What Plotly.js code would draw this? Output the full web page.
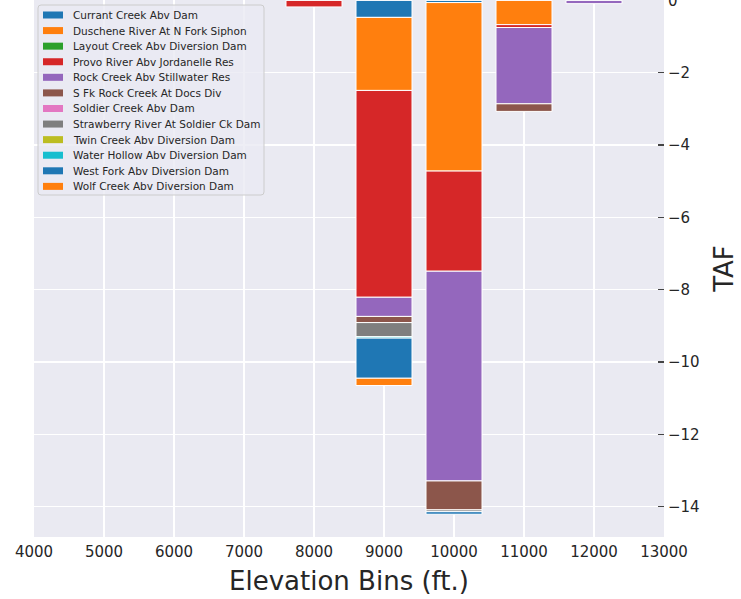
<!DOCTYPE html>
<html>
<head>
<meta charset="utf-8">
<script src="https://cdn.plot.ly/plotly-3.0.1.min.js"></script>
<style>html,body{margin:0;padding:0;background:#fff;}#chart{width:741px;height:599px;}</style>
</head>
<body>
<div id="chart"></div>
<script>
// ---- Data ----
const elevationBins = [8000, 9000, 10000, 11000, 12000];
const seriesNames = [
  "Currant Creek Abv Dam",
  "Duschene River At N Fork Siphon",
  "Layout Creek Abv Diversion Dam",
  "Provo River Abv Jordanelle Res",
  "Rock Creek Abv Stillwater Res",
  "S Fk Rock Creek At Docs Div",
  "Soldier Creek Abv Dam",
  "Strawberry River At Soldier Ck Dam",
  "Twin Creek Abv Diversion Dam",
  "Water Hollow Abv Diversion Dam",
  "West Fork Abv Diversion Dam",
  "Wolf Creek Abv Diversion Dam"
];
const currantCreek   = [0,     -0.47, -0.06, 0,     0];
const duscheneRiver  = [0,     -2.02, -4.66, -0.67, 0];
const layoutCreek    = [0,      0,     0,     0,    0];
const provoRiver     = [-0.18, -5.72, -2.77, -0.08, 0];
const rockCreek      = [0,     -0.53, -5.80, -2.11, -0.09];
const sFkRockCreek   = [0,     -0.17, -0.80, -0.21, 0];
const soldierCreek   = [0,      0,     0,     0,    0];
const strawberryRiver= [0,     -0.39, -0.05, 0,     0];
const twinCreek      = [0,      0,     0,     0,    0];
const waterHollow    = [0,     -0.04,  0,     0,    0];
const westFork       = [0,     -1.11, -0.07,  0,    0];
const wolfCreek      = [0,     -0.20,  0,     0,    0];
const xTickVals = [4000, 5000, 6000, 7000, 8000, 9000, 10000, 11000, 12000, 13000];
const xTickText = ["4000", "5000", "6000", "7000", "8000", "9000", "10000", "11000", "12000", "13000"];
const yTickVals = [0, -2, -4, -6, -8, -10, -12, -14];
const yTickText = ["0", "\u22122", "\u22124", "\u22126", "\u22128", "\u221210", "\u221212", "\u221214"];

const seriesValues = [currantCreek, duscheneRiver, layoutCreek, provoRiver, rockCreek,
  sFkRockCreek, soldierCreek, strawberryRiver, twinCreek, waterHollow, westFork, wolfCreek];
const colors = ["#1f77b4","#ff7f0e","#2ca02c","#d62728","#9467bd","#8c564b",
  "#e377c2","#7f7f7f","#bcbd22","#17becf","#1f77b4","#ff7f0e"];

const traces = seriesNames.map((name, i) => ({
  type: "bar",
  name: name,
  x: elevationBins,
  y: seriesValues[i].map(v => v === 0 ? null : v),
  width: 800,
  marker: {color: colors[i], line: {color: "#ffffff", width: 1}},
  showlegend: false,
  hoverinfo: "skip"
}));

// ---- Layout geometry ----
const ML = 34, MR = 77, MT = 0, MB = 62;
const PW = 741 - ML - MR, PH = 599 - MT - MB;
const px = x => (x - ML) / PW;
const py = y => 1 - (y - MT) / PH;

const shapes = [];
const annotations = [];
// legend frame (rounded rectangle)
(function () {
  const x0 = 38, x1 = 264, y0 = 5, y1 = 195, r = 3;
  const P = (x, y) => px(x) + "," + py(y);
  const path = "M" + P(x0 + r, y0) + " L" + P(x1 - r, y0) + " Q" + P(x1, y0) + " " + P(x1, y0 + r) +
    " L" + P(x1, y1 - r) + " Q" + P(x1, y1) + " " + P(x1 - r, y1) +
    " L" + P(x0 + r, y1) + " Q" + P(x0, y1) + " " + P(x0, y1 - r) +
    " L" + P(x0, y0 + r) + " Q" + P(x0, y0) + " " + P(x0 + r, y0) + " Z";
  shapes.push({type: "path", xref: "paper", yref: "paper", layer: "above", path: path,
    fillcolor: "rgba(234,234,242,0.8)", line: {color: "#cccccc", width: 1}});
})();
seriesNames.forEach((name, i) => {
  const cy = 15 + i * 15.58;
  shapes.push({type: "rect", xref: "paper", yref: "paper", layer: "above",
    x0: px(43), x1: px(63), y0: py(cy + 3.5), y1: py(cy - 3.5),
    fillcolor: colors[i], line: {width: 0}});
  annotations.push({xref: "paper", yref: "paper", x: px(70.5), y: py(cy),
    xanchor: "left", yanchor: "middle", showarrow: false, text: name,
    font: {family: "DejaVu Sans", size: 10.5, color: "#262626"}});
});

const layout = {
  width: 741, height: 599,
  margin: {l: ML, r: MR, t: MT, b: MB, pad: 0},
  paper_bgcolor: "#ffffff",
  plot_bgcolor: "#eaeaf2",
  barmode: "relative",
  font: {family: "DejaVu Sans", color: "#262626"},
  showlegend: false,
  xaxis: {
    range: [4000, 13000], tickvals: xTickVals, ticktext: xTickText, ticks: "",
    tickfont: {size: 15, color: "#262626"}, ticklabelstandoff: 4,
    showgrid: true, gridcolor: "#ffffff", gridwidth: 1.2,
    zeroline: false, showline: false,
    title: {text: "Elevation Bins (ft.)", font: {size: 26, color: "#262626"}, standoff: 11}
  },
  yaxis: {
    side: "right",
    range: [-14.84, 0.011], tickvals: yTickVals, ticktext: yTickText,
    ticks: "inside", ticklen: 6, tickwidth: 1.2, tickcolor: "#444444",
    tickfont: {size: 15, color: "#262626"}, ticklabelstandoff: 3,
    ticklabeloverflow: "allow",
    showgrid: true, gridcolor: "#ffffff", gridwidth: 1.2,
    zeroline: false, showline: false,
    title: {text: "TAF", font: {size: 26, color: "#262626"}, standoff: 16}
  },
  shapes: shapes,
  annotations: annotations
};

Plotly.newPlot("chart", traces, layout, {staticPlot: true, displayModeBar: false});
</script>
</body>
</html>
